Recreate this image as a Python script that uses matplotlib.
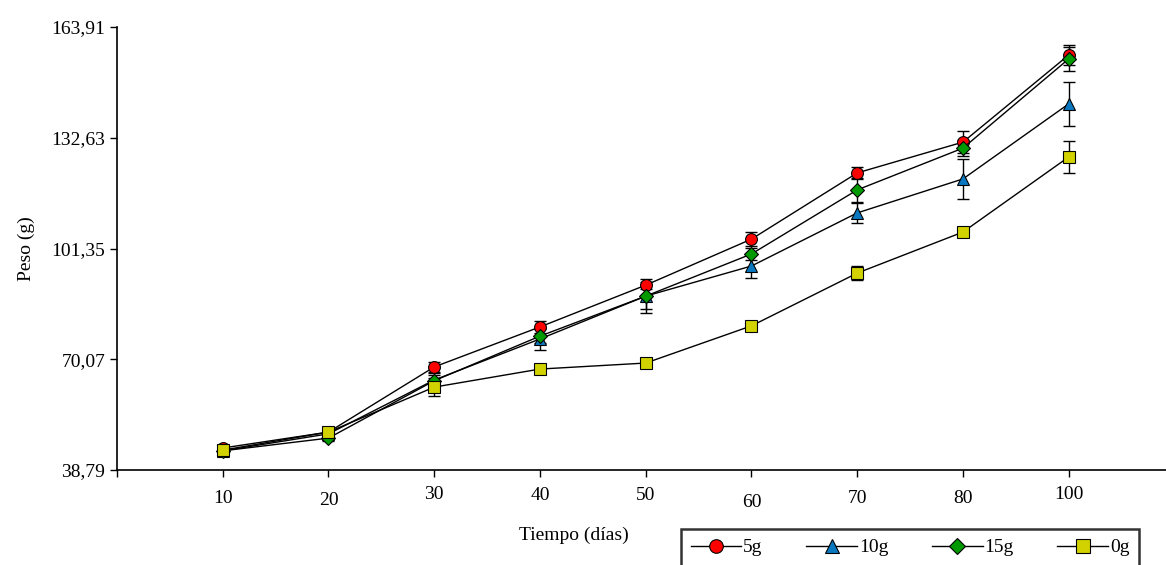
import numpy as np
import matplotlib.pyplot as plt

plt.rcParams['font.family'] = ['Liberation Serif', 'DejaVu Serif']

dias = ['10', '20', '30', '40', '50', '60', '70', '80', '100']
y_ticks = [38.79, 70.07, 101.35, 132.63, 163.91]

peso_5g = [45.0, 49.5, 67.9, 79.2, 91.0, 104.0, 122.7, 131.4, 156.0]
peso_10g = [44.2, 49.0, 64.2, 75.8, 87.9, 96.4, 111.4, 121.0, 142.2]
peso_15g = [44.2, 47.8, 64.0, 76.6, 87.9, 99.8, 117.9, 129.7, 154.9]
peso_0g = [44.4, 49.5, 62.2, 67.3, 69.0, 79.5, 94.4, 106.0, 127.2]

err_5g = [0.8, 0.8, 1.3, 1.7, 1.0, 2.0, 1.7, 3.0, 2.8]
err_10g = [0.8, 0.8, 2.0, 3.1, 4.8, 3.4, 2.8, 5.6, 6.2]
err_15g = [0.8, 0.8, 1.5, 2.0, 3.5, 1.7, 3.4, 2.2, 3.4]
err_0g = [0.8, 0.8, 2.5, 1.5, 1.5, 1.0, 2.0, 1.5, 4.5]

series = [
    ('5g', peso_5g, err_5g, 'o', '#ff0000'),
    ('10g', peso_10g, err_10g, '^', '#0a78c0'),
    ('15g', peso_15g, err_15g, 'D', '#009a00'),
    ('0g', peso_0g, err_0g, 's', '#d2d200'),
]
sizes = {'o': 8.5, '^': 9, 'D': 7.5, 's': 8.5}

fig = plt.figure(figsize=(11.66, 5.65), dpi=100)
ax = fig.add_axes([117 / 1166, 95 / 565, 1049 / 1166, 443 / 565])

x = np.arange(1, len(dias) + 1)
for name, vals, errs, mk, col in series:
    ax.errorbar(x, vals, yerr=errs, fmt='none', ecolor='black', elinewidth=1,
                capsize=4.5, capthick=1, zorder=2)
    ax.plot(x, vals, color='black', lw=1, marker=mk, markersize=sizes[mk],
            markerfacecolor=col, markeredgecolor='black', markeredgewidth=0.8,
            label=name, zorder=3)

ax.set_xlim(0, 9.92)
ax.set_ylim(y_ticks[0], y_ticks[-1])
ax.set_yticks(y_ticks)
ax.set_yticklabels([f'{v:.2f}'.replace('.', ',') for v in y_ticks], fontsize=14)
ax.set_xticks(np.arange(0, len(dias) + 1))
ax.set_xticklabels([''] + dias, fontsize=14)
ax.tick_params(axis='both', direction='out', length=5, width=1, colors='black')

# tick labels of the original are staggered vertically
offsets = [0, 3, 5, -1, 0, 0, 7, 3, 3, -0.5]
for lab, off in zip(ax.get_xticklabels(), offsets):
    lab.set_y(-0.03 - off / 443)
    lab.set_va('center')

for s in ['top', 'right']:
    ax.spines[s].set_visible(False)
for s in ['left', 'bottom']:
    ax.spines[s].set_linewidth(1.2)

ax.set_ylabel('Peso (g)', fontsize=14, labelpad=12)
fig.text(574 / 1166, 1 - 535 / 565, 'Tiempo (días)', fontsize=14,
         ha='center', va='center')

leg = ax.legend(loc='upper left', bbox_to_anchor=(681 / 1166, 1 - 529 / 565),
                bbox_transform=fig.transFigure, ncol=4, frameon=True,
                fancybox=False, edgecolor='black', fontsize=14,
                handlelength=2.6, handletextpad=0.1, columnspacing=2.25,
                numpoints=1, markerscale=1.15, borderpad=0.5, borderaxespad=0)
leg.get_frame().set_linewidth(1.8)

fig.savefig('out.png', dpi=100)
